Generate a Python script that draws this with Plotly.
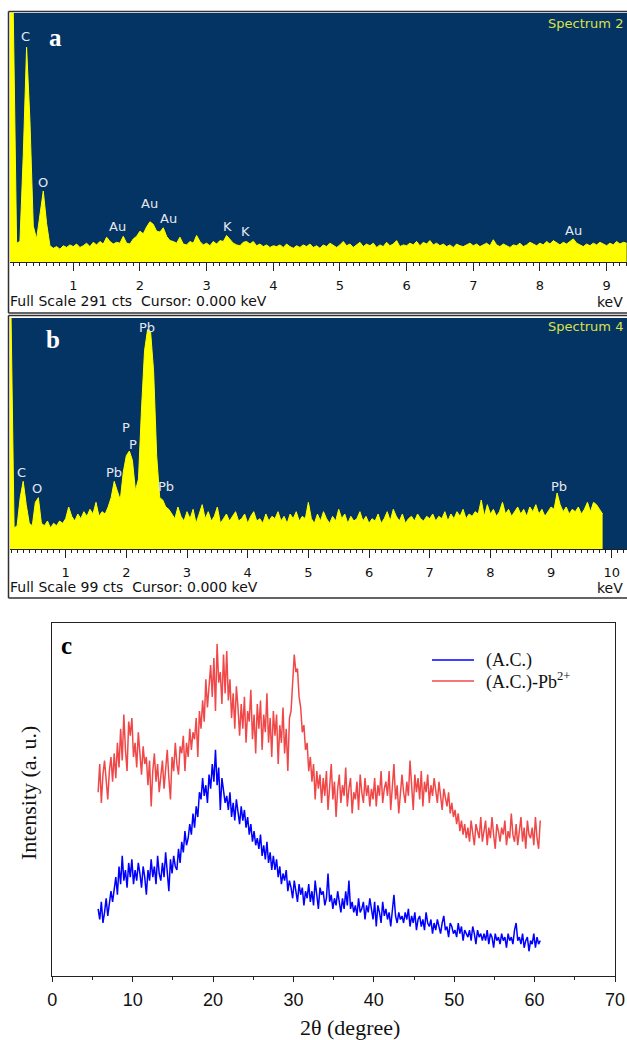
import numpy as np
import plotly.graph_objects as go

W, H = 627, 1040

# ---------------- EDS spectra (counts per 0.05 keV channel) ----------------
eds_step = 0.05
eds_a_start = 0.05
eds_a_counts = [
    291, 291, 22, 24, 125, 251, 165, 42, 27, 58, 83, 45, 19, 16, 18, 15, 19, 17, 20, 18,
    21, 17, 19, 22, 18, 23, 20, 24, 21, 29, 24, 21, 23, 22, 30, 22, 21, 27, 30, 36,
    33, 41, 47, 44, 36, 35, 40, 30, 25, 24, 22, 29, 21, 20, 24, 22, 31, 24, 20, 22,
    19, 24, 21, 25, 24, 31, 27, 22, 20, 19, 23, 24, 21, 24, 19, 21, 18, 20, 17, 19,
    18, 20, 17, 21, 18, 16, 19, 17, 20, 18, 21, 17, 19, 16, 20, 18, 22, 19, 17, 20,
    24, 19, 21, 17, 20, 23, 18, 21, 19, 22, 17, 20, 18, 23, 19, 21, 25, 18, 20, 19,
    22, 20, 24, 19, 23, 21, 25, 20, 22, 19, 21, 18, 20, 17, 21, 19, 18, 20, 22, 19,
    21, 18, 20, 22, 19, 26, 20, 18, 21, 19, 17, 20, 19, 22, 18, 20, 23, 21, 19, 22,
    20, 24, 21, 25, 22, 20, 23, 21, 24, 27, 22, 20, 18, 21, 19, 22, 20, 23, 21, 19,
    22, 20, 24, 21, 23, 22,
]
eds_a_full_scale = 291
eds_a_ticks = [1, 2, 3, 4, 5, 6, 7, 8, 9]

eds_b_start = 0.05
eds_b_counts = [
    99, 99, 9, 10, 22, 29, 19, 11, 10, 20, 22, 11, 10, 12, 9, 11, 10, 12, 11, 13,
    18, 14, 12, 15, 13, 16, 14, 17, 15, 20, 14, 16, 15, 18, 22, 29, 25, 21, 33, 40,
    42, 38, 25, 30, 60, 85, 94, 93, 76, 40, 22, 21, 18, 17, 15, 13, 18, 14, 12, 16,
    13, 17, 11, 15, 19, 13, 16, 12, 14, 18, 11, 13, 15, 12, 14, 16, 12, 13, 15, 11,
    14, 16, 12, 13, 11, 15, 12, 14, 13, 16, 12, 14, 11, 15, 13, 16, 12, 14, 13, 20,
    13, 11, 15, 12, 16, 13, 11, 14, 12, 17, 13, 15, 11, 14, 12, 13, 16, 12, 14, 11,
    13, 12, 15, 11, 13, 16, 12, 17, 14, 12, 15, 11, 13, 14, 12, 15, 13, 12, 14, 13,
    15, 12, 14, 13, 16, 12, 15, 13, 16, 14, 17, 13, 15, 14, 16, 15, 21, 14, 19, 15,
    17, 14, 16, 20, 15, 17, 14, 16, 18, 15, 17, 14, 18, 16, 19, 15, 17, 14, 16, 18,
    17, 24, 19, 16, 18, 15, 17, 16, 18, 15, 17, 20, 16, 20, 19, 17, 15,
]
eds_b_full_scale = 99
eds_b_ticks = [1, 2, 3, 4, 5, 6, 7, 8, 9, 10]

# element markers: (label, keV, counts)
eds_a_labels = [("C", 0.276, 263), ("O", 0.546, 93), ("Au", 1.656, 41), ("Au", 2.136, 68),
                ("Au", 2.421, 51), ("K", 3.32, 41), ("K", 3.59, 36), ("Au", 8.5, 37)]
eds_b_labels = [("Pb", 2.34, 95), ("P", 1.995, 52), ("P", 2.11, 45), ("Pb", 1.80, 32.6),
                ("Pb", 2.65, 26.6), ("C", 0.264, 32.6), ("O", 0.527, 26), ("Pb", 9.13, 26.6)]

# ---------------- XRD patterns (0.2 degree steps from 5.7 degrees) ----------------
xrd_start = 5.7
xrd_step = 0.2
xrd_ac = [
    19, 16, 21, 15, 18, 22, 17, 20, 24, 21,
    25, 28, 23, 31, 26, 34, 27, 30, 25, 32,
    28, 33, 26, 30, 27, 32, 29, 25, 31, 28,
    23, 30, 27, 33, 28, 31, 26, 34, 29, 27,
    32, 28, 35, 30, 24, 33, 29, 34, 31, 30,
    36, 32, 38, 35, 41, 37, 39, 43, 40, 46,
    42, 48, 45, 52, 50, 56, 51, 54, 49, 57,
    53, 60, 55, 64, 54, 59, 47, 56, 52, 49,
    51, 47, 52, 45, 49, 44, 50, 46, 43, 48,
    44, 47, 42, 45, 40, 43, 38, 41, 37, 39,
    36, 40, 34, 37, 33, 38, 32, 35, 30, 34,
    30, 33, 28, 31, 26, 29, 27, 30, 24, 27,
    25, 22, 27, 24, 21, 26, 23, 25, 20, 24,
    22, 26, 21, 24, 20, 27, 22, 19, 25, 23,
    24, 20, 22, 29, 21, 23, 19, 22, 20, 24,
    21, 18, 22, 19, 24, 20, 27, 19, 21, 18,
    20, 17, 22, 18, 19, 21, 16, 20, 18, 22,
    19, 16, 21, 14, 20, 18, 15, 21, 17, 19,
    16, 18, 14, 19, 23, 17, 15, 18, 16, 17,
    15, 18, 16, 19, 14, 17, 15, 18, 13, 16,
    17, 14, 16, 13, 18, 15, 14, 16, 12, 15,
    13, 16, 14, 12, 15, 17, 13, 14, 11, 15,
    14, 12, 13, 11, 15, 12, 14, 10, 13, 12,
    11, 13, 10, 14, 12, 9, 13, 11, 12, 10,
    12, 10, 13, 9, 12, 11, 8, 12, 10, 11,
    9, 12, 10, 11, 8, 12, 10, 11, 9, 13,
    15, 10, 11, 9, 12, 8, 10, 11, 7, 10,
    9, 12, 8, 11, 9, 10,
]
xrd_ac_pb = [
    52, 60, 49, 57, 61, 54, 50, 58, 62, 55,
    63, 56, 66, 59, 70, 61, 74, 64, 58, 72,
    68, 73, 62, 66, 59, 69, 63, 57, 65, 60,
    62, 54, 61, 48, 58, 63, 55, 60, 52, 57,
    61, 53, 59, 64, 56, 50, 62, 58, 66, 60,
    57, 65, 63, 68, 58, 66, 62, 70, 64, 69,
    67, 73, 62, 75, 70, 78, 72, 84, 76, 82,
    88, 79, 90, 75, 94, 83, 86, 77, 91, 80,
    92, 78, 84, 73, 80, 70, 82, 76, 68, 77,
    70, 79, 66, 75, 72, 81, 67, 74, 63, 77,
    70, 78, 64, 74, 69, 80, 66, 73, 62, 75,
    68, 74, 60, 71, 66, 76, 63, 70, 58, 73,
    75, 83, 91, 86, 87, 79, 76, 69, 71, 64,
    66, 58, 62, 55, 60, 50, 58, 53, 57, 49,
    56, 51, 58, 47, 54, 60, 50, 55, 45, 53,
    57, 49, 54, 51, 59, 48, 53, 56, 46, 52,
    50, 55, 47, 57, 52, 49, 56, 51, 54, 48,
    53, 50, 56, 48, 54, 51, 58, 49, 53, 55,
    51, 58, 47, 55, 60, 50, 54, 46, 53, 57,
    52, 49, 55, 51, 61, 54, 47, 57, 52, 56,
    50, 58, 48, 55, 52, 57, 49, 54, 51, 56,
    53, 49, 55, 51, 47, 53, 50, 48, 52, 46,
    49, 45, 47, 43, 46, 41, 44, 40, 43, 39,
    42, 38, 44, 40, 37, 43, 41, 39, 45, 38,
    41, 44, 37, 42, 39, 45, 40, 36, 43, 41,
    38, 42, 40, 44, 37, 41, 39, 46, 40, 38,
    43, 37, 41, 45, 38, 42, 36, 44, 40, 39,
    42, 37, 45, 39, 36, 44,
]
xrd_names = ["(A.C.)", "(A.C.)-Pb<sup>2+</sup>"]
xrd_colors = ["#0000FF", "#F04848"]
xrd_ticks = [0, 10, 20, 30, 40, 50, 60, 70]

# ---------------- helpers ----------------
def fx(p):
    return p / W


def fy(p):
    return 1 - p / H


EDS_BG = "#043464"
EDS_YELLOW = "#FFFF00"
EDS_FONT = "DejaVu Sans"
SERIF = "Liberation Serif"
SANS = "Liberation Sans"

x_a = eds_a_start + eds_step * np.arange(len(eds_a_counts))
x_b = eds_b_start + eds_step * np.arange(len(eds_b_counts))
x_xrd_ac = xrd_start + xrd_step * np.arange(len(xrd_ac))
x_xrd_pb = xrd_start + xrd_step * np.arange(len(xrd_ac_pb))

fig = go.Figure()

fig.add_trace(go.Scatter(x=x_a, y=eds_a_counts, mode="lines", xaxis="x", yaxis="y",
                         line=dict(color=EDS_YELLOW, width=1), fill="tozeroy",
                         fillcolor=EDS_YELLOW, showlegend=False, hoverinfo="skip"))
fig.add_trace(go.Scatter(x=x_b, y=eds_b_counts, mode="lines", xaxis="x2", yaxis="y2",
                         line=dict(color=EDS_YELLOW, width=1), fill="tozeroy",
                         fillcolor=EDS_YELLOW, showlegend=False, hoverinfo="skip"))
fig.add_trace(go.Scatter(x=x_xrd_ac, y=xrd_ac, mode="lines", xaxis="x3", yaxis="y3",
                         name=xrd_names[0], line=dict(color=xrd_colors[0], width=1.5),
                         showlegend=False))
fig.add_trace(go.Scatter(x=x_xrd_pb, y=xrd_ac_pb, mode="lines", xaxis="x3", yaxis="y3",
                         name=xrd_names[1], line=dict(color=xrd_colors[1], width=1.5),
                         showlegend=False))


def eds_xaxis(domain_y_anchor, rng, ticks):
    return dict(
        domain=[fx(10), 1.0], range=rng, anchor=domain_y_anchor,
        showline=True, linecolor="#222", linewidth=1,
        ticks="outside", ticklen=8, tickwidth=1, tickcolor="#222",
        tickvals=ticks, ticktext=[str(t) for t in ticks],
        minor=dict(dtick=0.1, tick0=0, ticks="outside", ticklen=3, tickcolor="#222"),
        showgrid=False, zeroline=False, automargin=False,
        tickfont=dict(family=EDS_FONT, size=13, color="#111"),
        ticklabelstandoff=3, fixedrange=True,
    )


layout = dict(
    width=W, height=H, autosize=False,
    margin=dict(l=0, r=0, t=0, b=0, pad=0, autoexpand=False),
    paper_bgcolor="white", plot_bgcolor="rgba(0,0,0,0)",
    xaxis=eds_xaxis("y", [(10 - 6.6) / 66.67, (627 - 6.6) / 66.67], eds_a_ticks),
    yaxis=dict(domain=[fy(262), fy(13)], range=[0, eds_a_full_scale], visible=False,
               fixedrange=True, automargin=False),
    xaxis2=eds_xaxis("y2", [(10 - 5.0) / 60.67, (627 - 5.0) / 60.67], eds_b_ticks),
    yaxis2=dict(domain=[fy(549), fy(318)], range=[0, eds_b_full_scale], visible=False,
                fixedrange=True, automargin=False),
    xaxis3=dict(
        domain=[fx(52.3), fx(615)], range=[0, 70], anchor="y3",
        showline=True, mirror=True, linecolor="#222", linewidth=1,
        ticks="outside", ticklen=5, tickcolor="#222", tickvals=xrd_ticks,
        minor=dict(dtick=5, tick0=0, ticks="outside", ticklen=3, tickcolor="#222"),
        showgrid=False, zeroline=False, automargin=False,
        tickfont=dict(family=SANS, size=18, color="#111"),
        ticklabelstandoff=2, fixedrange=True,
    ),
    yaxis3=dict(
        domain=[fy(976), fy(622.7)], range=[0, 100], anchor="x3",
        showline=True, mirror=True, linecolor="#222", linewidth=1,
        ticks="", showticklabels=False, showgrid=False, zeroline=False,
        fixedrange=True, automargin=False,
    ),
    showlegend=False,
)
fig.update_layout(**layout)

shapes = []
# spectrum backgrounds
for xr, yr in (("x domain", "y domain"), ("x2 domain", "y2 domain")):
    shapes.append(dict(type="rect", xref=xr, yref=yr, x0=0, x1=1, y0=0, y1=1,
                       fillcolor=EDS_BG, line=dict(width=0), layer="below"))
# panel frames: top, bottom and left edges (the right side runs off the page)
frame_line = dict(color="#303030", width=1.5)
for top, bottom in ((11.5, 313), (315.5, 598)):
    for yy in (top, bottom):
        shapes.append(dict(type="line", xref="paper", yref="paper",
                           x0=fx(8.5), x1=1.0, y0=fy(yy), y1=fy(yy), line=frame_line))
    shapes.append(dict(type="line", xref="paper", yref="paper",
                       x0=fx(8.5), x1=fx(8.5), y0=fy(bottom), y1=fy(top), line=frame_line))
# legend samples
legend_rows = [660, 681]
for row, color in zip(legend_rows, xrd_colors):
    shapes.append(dict(type="line", xref="paper", yref="paper",
                       x0=fx(432), x1=fx(474), y0=fy(row), y1=fy(row),
                       line=dict(color=color, width=1.5)))
fig.update_layout(shapes=shapes)


def note(x, y, text, font, xref="paper", yref="paper", xanchor="center", **kw):
    return dict(x=x, y=y, xref=xref, yref=yref, text=text, showarrow=False,
                xanchor=xanchor, yanchor="middle", font=font, **kw)


ann = []
lab_font = dict(family=EDS_FONT, size=13, color="#E6E8F0")
# element markers
for lab, kev, cts in eds_a_labels:
    ann.append(note(kev, cts, lab, lab_font, xref="x", yref="y"))
for lab, kev, cts in eds_b_labels:
    ann.append(note(kev, cts, lab, lab_font, xref="x2", yref="y2"))

# panel letters
ann.append(note(fx(55), fy(38), "<b>a</b>", dict(family=SERIF, size=25, color="white")))
ann.append(note(fx(53), fy(340), "<b>b</b>", dict(family=SERIF, size=25, color="white")))
ann.append(note(fx(66), fy(645), "<b>c</b>", dict(family=SERIF, size=25, color="black")))

# spectrum captions
for title, yy in (("Spectrum 2", 23), ("Spectrum 4", 326)):
    ann.append(note(fx(625), fy(yy), title, dict(family=EDS_FONT, size=13, color="#DCE04A"),
                    xanchor="right"))
for cts, yy in ((eds_a_full_scale, 301), (eds_b_full_scale, 587)):
    ann.append(note(fx(8), fy(yy), f"Full Scale {cts} cts\u00a0\u00a0Cursor: 0.000 keV",
                    dict(family=EDS_FONT, size=14, color="#111"), xanchor="left"))
    ann.append(note(fx(625), fy(yy + 1), "keV", dict(family=EDS_FONT, size=14, color="#111"),
                    xanchor="right"))

# XRD axis titles
ann.append(note(fx(350), fy(1027), "2θ (degree)", dict(family=SERIF, size=22, color="#111")))
ann.append(note(fx(28), fy(793), "Intensity (a. u.)", dict(family=SERIF, size=22, color="#111"),
                textangle=-90))

# legend texts
for row, name in zip(legend_rows, xrd_names):
    ann.append(note(fx(484), fy(row), name, dict(family=SERIF, size=18, color="#111"),
                    xanchor="left"))

fig.update_layout(annotations=ann)

fig.write_html("out.html", config={"staticPlot": True})
